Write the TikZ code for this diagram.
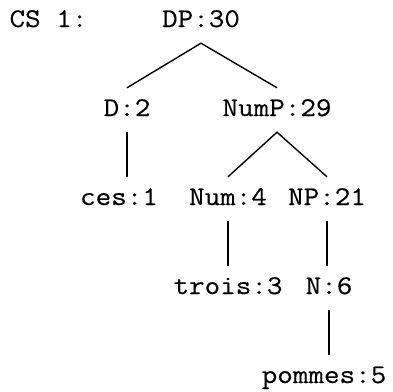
\documentclass[tikz,border=0pt]{standalone}
\usepackage{fontspec}
\newfontfamily\treefont{Latin Modern Mono}[FakeStretch=1.12,FakeBold=0.3]
\begin{document}
\begin{tikzpicture}[x=1pt,y=-1pt,
  lbl/.style={font=\treefont\fontsize{27}{27}\selectfont, inner sep=0pt,
              text height=28pt, text depth=16pt, anchor=base},
  edge/.style={line width=1.4pt, black}]
\useasboundingbox (0,0) rectangle (393,391);
% labels, placed by their baselines
\node[lbl] (cs)     at (48.5,27) {CS 1:};
\node[lbl] (DP)     at (201,27)  {DP:30};
\node[lbl] (D)      at (127,116) {D:2};
\node[lbl] (NumP)   at (277,116) {NumP:29};
\node[lbl] (ces)    at (119,205) {ces:1};
\node[lbl] (Num)    at (228,205) {Num:4};
\node[lbl] (NP)     at (327,205) {NP:21};
\node[lbl] (trois)  at (228,294) {trois:3};
\node[lbl] (N)      at (329,294) {N:6};
\node[lbl] (pommes) at (324,383) {pommes:5};
% branching edges
\draw[edge] (D.north) -- (DP.south) -- (NumP.north);
\draw[edge] (Num.north) -- (NumP.south) -- (NP.north);
% unary edges, dropped straight down from the parent
\draw[edge] (D.south) -- (D.south |- ces.north);
\draw[edge] (Num.south) -- (Num.south |- trois.north);
\draw[edge] (NP.south) -- (NP.south |- N.north);
\draw[edge] (N.south) -- (N.south |- pommes.north);
\end{tikzpicture}
\end{document}
